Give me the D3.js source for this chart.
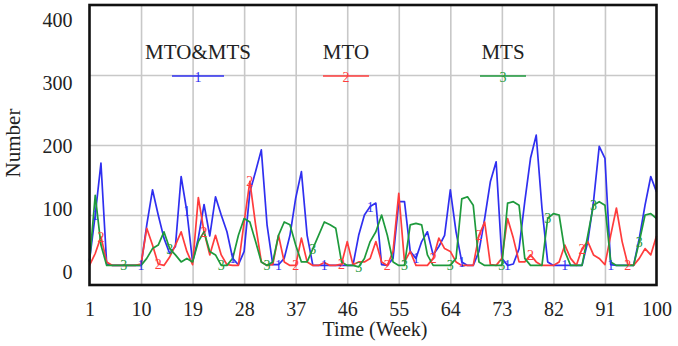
<!DOCTYPE html>
<html><head><meta charset="utf-8">
<script src="https://cdn.jsdelivr.net/npm/d3@7"></script>
<style>
body{margin:0;background:#fff;}
svg{display:block;}
text{font-family:"Liberation Serif","Times New Roman",serif;fill:#222;}
</style></head>
<body><svg id="c" width="678" height="346"></svg>
<script>
const weeks = d3.range(1, 101);
const xTicks = [1, 10, 19, 28, 37, 46, 55, 64, 73, 82, 91, 100];
const yTicks = [0, 100, 200, 300, 400];
const seriesNames = ["MTO&MTS", "MTO", "MTS"];
const seriesIds = ["1", "2", "3"];

const mtoMts = [35,100,174,30,28,28,28,28,28,28, 86,136,100,67,45,55,155,105,33,67,
  115,70,126,100,76,38,29,48,133,162, 193,86,29,29,38,71,124,162,71,28,
  28,28,28,28,28,28,28,71,100,112, 117,29,28,38,119,119,48,38,62,76,
  43,55,71,136,76,33,28,28,48,95, 148,176,38,28,30,52,119,181,214,110,
  33,28,28,28,28,28,28,62,119,198, 181,29,28,28,28,28,67,114,155,133];
const mto = [28,45,69,33,28,28,28,28,28,30, 81,57,30,28,40,57,76,48,29,125,
  76,43,71,43,29,28,28,90,148,86, 33,28,29,71,33,28,28,67,33,28,
  28,32,28,28,30,62,29,33,33,38, 62,33,28,48,131,33,48,28,28,28,
  38,67,52,48,33,28,28,28,71,90, 29,28,38,95,67,33,33,43,33,28,
  28,28,33,57,38,28,52,62,43,38, 29,71,110,62,29,28,38,52,43,70];
const mts = [33,128,57,28,28,28,28,28,28,28, 38,52,57,76,52,43,33,38,33,62,
  76,48,43,28,28,38,71,95,90,62, 33,28,33,71,90,86,57,33,33,52,
  71,90,86,81,33,28,28,26,38,62, 76,100,71,33,28,28,86,88,86,43,
  28,28,28,28,38,123,126,114,33,28, 28,28,28,117,119,114,38,28,28,28,
  95,102,100,48,28,28,28,71,114,119, 114,33,28,28,28,28,62,100,102,95];
const markerWeeks = [
  [2, 10, 18, 26, 34, 42, 50, 58, 66, 74, 84, 92],
  [3, 13, 21, 29, 37, 45, 53, 61, 69, 78, 87, 95],
  [7, 15, 24, 32, 40, 48, 56, 64, 73, 81, 89, 97]
];
const colors = ["#2f2ff0", "#ff3c3c", "#1e9a3c"];
const data = [mtoMts, mto, mts];

const svg = d3.select("#c");
const L = 89.5, R = 656.5, T = 5, B = 285;
const x = d3.scaleLinear().domain([1, 100]).range([L, R]);
const y = d3.scaleLinear().domain([0, 400]).range([B, T]);
const yLab = d3.scaleLinear().domain([0, 400]).range([272, 20]);

// gridlines
svg.append("g").attr("transform", `translate(0,${B})`)
  .call(d3.axisBottom(x).tickValues(xTicks.slice(1, -1)).tickSize(-(B - T)).tickFormat(""))
  .call(g => g.select(".domain").remove())
  .call(g => g.selectAll("line").attr("stroke", "#c8c8c8").attr("stroke-width", 1.6));
svg.append("g").attr("transform", `translate(${L},0)`)
  .call(d3.axisLeft(y).tickValues([100, 200, 300]).tickSize(-(R - L)).tickFormat(""))
  .call(g => g.select(".domain").remove())
  .call(g => g.selectAll("line").attr("stroke", "#c8c8c8").attr("stroke-width", 1.6));

// tick labels
svg.append("g").attr("transform", `translate(0,${B})`)
  .call(d3.axisBottom(x).tickValues(xTicks).tickSize(0).tickPadding(17).tickFormat(d3.format("d")))
  .call(g => g.select(".domain").remove())
  .call(g => g.selectAll("text").attr("font-size", 20).attr("font-family", "Liberation Serif").attr("fill", "#222"));
svg.append("g").attr("transform", `translate(${L},0)`)
  .call(d3.axisLeft(yLab).tickValues(yTicks).tickSize(0).tickPadding(17).tickFormat(d3.format("d")))
  .call(g => g.select(".domain").remove())
  .call(g => g.selectAll("text").attr("font-size", 20).attr("font-family", "Liberation Serif").attr("fill", "#222"));

// lines
const line = d3.line().x((d, i) => x(weeks[i])).y(d => y(d));
data.forEach((s, k) => {
  svg.append("path").datum(s).attr("d", line)
    .attr("fill", "none").attr("stroke", colors[k]).attr("stroke-width", 1.7)
    .attr("stroke-linejoin", "round");
});
// line markers
data.forEach((s, k) => {
  svg.append("g").selectAll("text").data(markerWeeks[k]).join("text")
    .attr("x", w => x(w)).attr("y", w => y(s[w - 1]))
    .attr("dy", "0.35em").attr("text-anchor", "middle")
    .attr("font-family", "Liberation Sans").attr("font-size", 14)
    .style("fill", colors[k]).text(seriesIds[k]);
});

// frame
svg.append("rect").attr("x", L).attr("y", T).attr("width", R - L).attr("height", B - T)
  .attr("fill", "none").attr("stroke", "#111").attr("stroke-width", 2.6);

// legend
const legX = [198, 346, 503];
const legHalf = [26, 23, 23];
seriesNames.forEach((n, k) => {
  svg.append("text").attr("x", legX[k]).attr("y", 59).attr("text-anchor", "middle")
    .attr("font-size", 21).text(n);
  svg.append("line").attr("x1", legX[k] - legHalf[k]).attr("x2", legX[k] + legHalf[k])
    .attr("y1", 76).attr("y2", 76).attr("stroke", colors[k]).attr("stroke-width", 1.6);
  svg.append("text").attr("x", legX[k]).attr("y", 77).attr("dy", "0.35em")
    .attr("text-anchor", "middle").attr("font-family", "Liberation Sans")
    .attr("font-size", 14).style("fill", colors[k]).text(seriesIds[k]);
});

// axis titles
svg.append("text").attr("x", 375).attr("y", 336).attr("text-anchor", "middle")
  .attr("font-size", 20).text("Time (Week)");
svg.append("text").attr("transform", "translate(20,143) rotate(-90)")
  .attr("text-anchor", "middle").attr("font-size", 21).text("Number");
</script></body></html>
